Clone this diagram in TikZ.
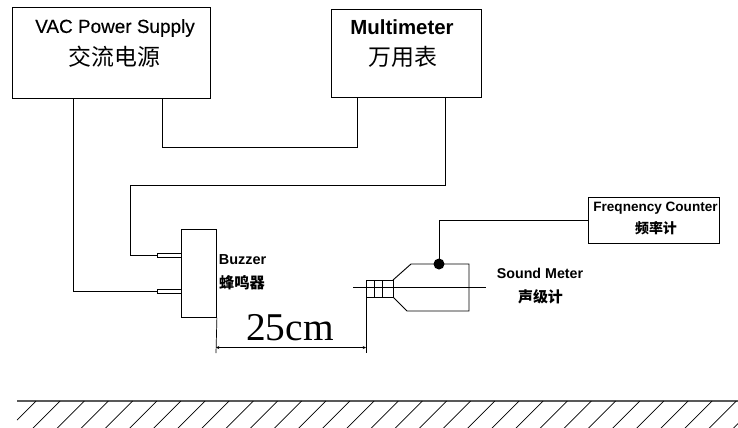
\documentclass[tikz,border=0pt]{standalone}
\usepackage{fontspec}
\setmainfont{Liberation Sans}
\newfontfamily\cjk{Noto Sans CJK SC}
\newfontfamily\timesfont{Liberation Serif}
\newfontfamily\medfont[FakeBold=0.25]{Liberation Sans}

\begin{document}
\begin{tikzpicture}[x=1bp, y=-1bp, line width=0.9bp]
\tikzset{unit/.style={draw, minimum width=#1, inner sep=0pt, anchor=north west},
pinbox/.style={draw, minimum width=24bp, minimum height=4bp, inner sep=0pt, line width=0.7bp},
txt/.style={inner sep=0pt, font=\fontsize{#1}{#1}\selectfont},
}
\useasboundingbox (0,0) rectangle (738,427);

\node[unit=198bp, minimum height=91bp] (vac) at (12,7) {};
\node[unit=150bp, minimum height=88bp] (multimeter) at (331,9) {};
\node[unit=131bp, minimum height=46bp] (counter) at (588,197) {};
\node[unit=35bp, minimum height=88bp] (buzzer) at (181,229) {};
\node[pinbox] (pinA) at (169,255.5) {};
\node[pinbox] (pinB) at (169,291) {};

\node[txt=19] (vacEn) at (115,28) {\medfont VAC Power Supply};
\node[txt=23] (vacCn) at (114.5,57) {\cjk 交流电源};
\node[txt=20.5] (multiEn) at (402,27) {\textbf{Multimeter}};
\node[txt=23] (multiCn) at (403,57) {\cjk 万用表};
\node[txt=14.5] (buzzEn) at (242.5,260) {\textbf{Buzzer}};
\node[txt=15.3] (buzzCn) at (242,283) {\cjk\bfseries 蜂鸣器};
\node[txt=14.3] (soundEn) at (540,273) {\textbf{Sound Meter}};
\node[txt=15] (soundCn) at (540.5,297) {\cjk\bfseries 声级计};
\node[txt=13.6] (countEn) at (655.5,208) {\textbf{Freqnency Counter}};
\node[txt=14] (countCn) at (656,228.5) {\cjk\bfseries 频率计};
\node[txt=39.5] (dist) at (290,328) {\timesfont 25cm};

% wires
\coordinate (vacL) at (73,98);
\coordinate (vacR) at (162,98);
\coordinate (multiL) at (357,97);
\coordinate (multiR) at (445,97);
\draw (vacL) |- (pinB.west);
\draw (vacR) |- (357,147) -- (multiL);
\draw (multiR) |- (130,185.5) |- (pinA.west);

% sound meter
\coordinate (tipNW) at (366,280);
\coordinate (tipSE) at (393,297);
\draw (tipNW) rectangle (tipSE);
\draw (374,280) -- (374,297);
\draw (382,280) -- (382,297);
\draw (tipSE |- tipNW) -- (411,264) -- (469,264) -- (469,311) -- (407,311) -- (tipSE);
\draw[line width=0.7bp] (353,287) -- (486,287);
\node[circle, fill=black, minimum size=11bp, inner sep=0pt] (probe) at (439,264) {};
\draw (probe.center) |- (counter.west);

% distance
\coordinate (dimA) at (216,353);
\coordinate (dimB) at (366,353);
\draw[line width=0.7bp] (buzzer.south east) -- (dimA);
\draw[line width=0.7bp] (tipNW |- tipSE) -- (dimB);
\draw[<->, >=stealth, line width=0.5bp] (216,347.5) -- (366,347.5);

% floor
\draw[line width=1.1bp, gray!70!black] (17,401) -- (738,401);
\begin{scope}
\clip (0,0) rectangle (738,427);
\draw[line width=0.7bp] (36,401) -- (17,420);
\foreach \i in {1,...,30}
\draw[line width=0.7bp] (36+24.15*\i,401) -- (36+24.15*\i-30,431);
\end{scope}
\end{tikzpicture}
\end{document}
